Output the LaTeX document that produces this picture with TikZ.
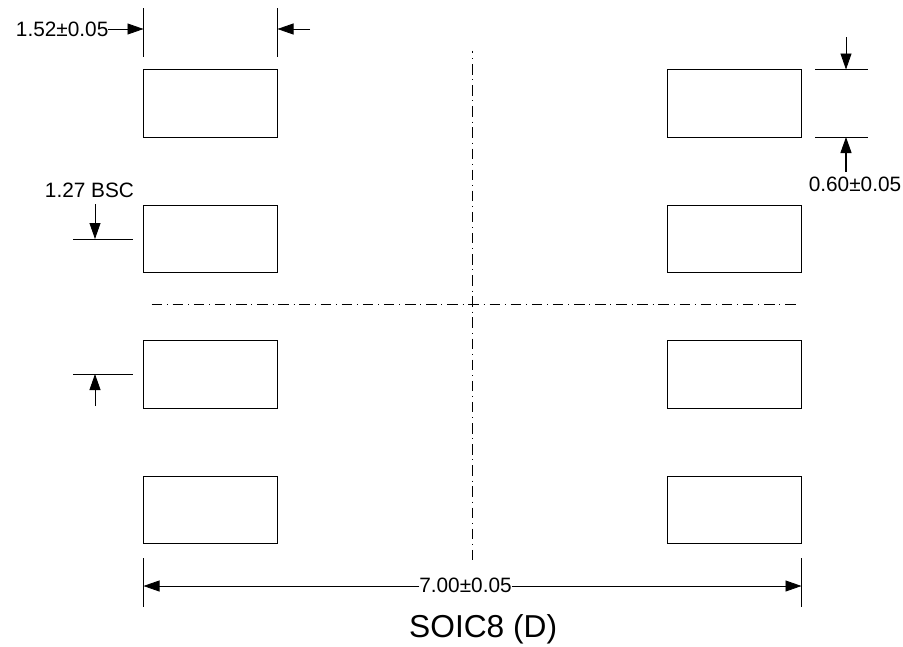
\documentclass[tikz,border=0pt]{standalone}
\usepackage{fontspec}
\setmainfont{Liberation Sans}
\usetikzlibrary{arrows.meta}
\tikzset{
  pad/.style={draw=black,line width=0.9pt,minimum width=134pt,minimum height=67.5pt,inner sep=0pt,outer sep=0pt,anchor=north west},
  dimtext/.style={font=\fontsize{20.8pt}{22pt}\selectfont,inner sep=0pt,outer sep=0pt,text=black},
  extline/.style={draw=black,line width=0.7pt},
  dimarrow/.style={draw=black,line width=0.8pt,-{Triangle[length=16pt,width=11pt]}},
  centerline/.style={draw=black,line width=0.7pt,dash pattern=on 10.5pt off 4.8pt on 1pt off 4.82pt}
}
\begin{document}
\begin{tikzpicture}[x=1pt,y=-1pt]
\useasboundingbox (0,0) rectangle (903,646);
% pads
\node[pad] (p1) at (143.5,69.5) {};
\node[pad] (p2) at (143.5,205) {};
\node[pad] (p3) at (143.5,340.5) {};
\node[pad] (p4) at (143.5,476) {};
\node[pad] (p5) at (667,69.5) {};
\node[pad] (p6) at (667,205) {};
\node[pad] (p7) at (667,340.5) {};
\node[pad] (p8) at (667,476) {};
% centre lines
\coordinate (vt) at (472.5,50.7);
\coordinate (vb) at (472.5,559.5);
\coordinate (hl) at (151.6,304.5);
\coordinate (hr) at (795.5,304.5);
\draw[centerline,dash phase=7.8pt] (vt) -- (vb);
\draw[centerline] (hl) -- (hr);
% top width dimension
\coordinate (e1a) at (143.5,8); \coordinate (e1b) at (143.5,57);
\coordinate (e2a) at (277.5,8); \coordinate (e2b) at (277.5,57);
\draw[extline] (e1a) -- (e1b);
\draw[extline] (e2a) -- (e2b);
\node[dimtext,anchor=west] (t152) at (16,29) {1.52±0.05};
\coordinate (a1) at (143.5,29);
\coordinate (a2) at (277.5,29);
\coordinate (a2s) at (310,29);
\draw[dimarrow] (t152.east) -- (a1);
\draw[dimarrow] (a2s) -- (a2);
% right height dimension
\coordinate (e3a) at (815,69.5); \coordinate (e3b) at (868,69.5);
\coordinate (e4a) at (815,137); \coordinate (e4b) at (868,137);
\draw[extline] (e3a) -- (e3b);
\draw[extline] (e4a) -- (e4b);
\node[dimtext] (t060) at (855,184.5) {0.60±0.05};
\coordinate (a3s) at (846,37); \coordinate (a3) at (846,69.5);
\coordinate (a4s) at (846,172); \coordinate (a4) at (846,137);
\draw[dimarrow] (a3s) -- (a3);
\draw[dimarrow,line width=1.1pt] (a4s) -- (a4);
% left pitch dimension
\node[dimtext] (t127) at (89.5,190.5) {1.27 BSC};
\coordinate (e5a) at (73,239); \coordinate (e5b) at (133,239);
\coordinate (e6a) at (73,374); \coordinate (e6b) at (133,374);
\draw[extline] (e5a) -- (e5b);
\draw[extline] (e6a) -- (e6b);
\coordinate (a5s) at (95,204); \coordinate (a5) at (95,239);
\coordinate (a6s) at (95,406); \coordinate (a6) at (95,374);
\draw[dimarrow] (a5s) -- (a5);
\draw[dimarrow] (a6s) -- (a6);
% bottom dimension
\coordinate (e7a) at (143.5,558); \coordinate (e7b) at (143.5,607);
\coordinate (e8a) at (801.5,558); \coordinate (e8b) at (801.5,607);
\draw[extline] (e7a) -- (e7b);
\draw[extline] (e8a) -- (e8b);
\node[dimtext] (t700) at (465.5,585) {7.00±0.05};
\coordinate (a7) at (143.5,586); \coordinate (a8) at (801.5,586);
\draw[dimarrow] (t700.west|-a7) -- (a7);
\draw[dimarrow] (t700.east|-a8) -- (a8);
% title
\node[font=\fontsize{31.7pt}{33pt}\selectfont,inner sep=0pt,anchor=base west] (title) at (409,637) {SOIC8 (D)};
\end{tikzpicture}
\end{document}
